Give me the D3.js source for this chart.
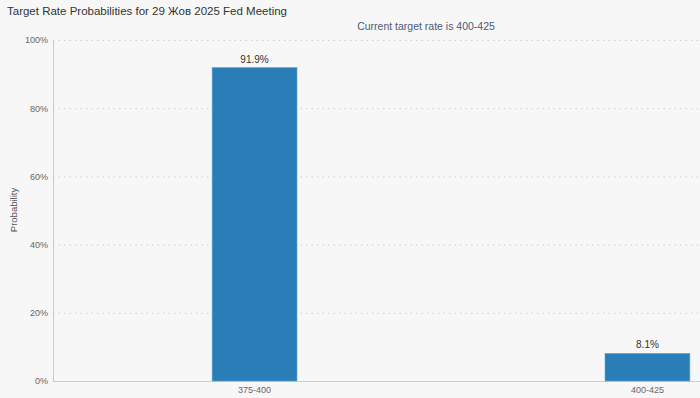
<!DOCTYPE html>
<html><head><meta charset="utf-8">
<script src="https://cdn.jsdelivr.net/npm/d3@7"></script>
<style>html,body{margin:0;padding:0;background:#f7f7f7;}svg{display:block;}</style>
</head><body>
<script>
const categories = ["375-400", "400-425"];
const probabilities = [91.9, 8.1];
const yTicks = [0, 20, 40, 60, 80, 100];
const titleText = "Target Rate Probabilities for 29 Жов 2025 Fed Meeting";
const subtitleText = "Current target rate is 400-425";

(function () {
const W = 700, H = 398;
const svg = d3.select("body").append("svg").attr("width", W).attr("height", H);
svg.append("rect").attr("width", W).attr("height", H).attr("fill", "#f7f7f7");

const mLeft = 53, mTop = 40, mBottom = 381;
const x = d3.scaleBand().domain(categories).range([mLeft, 849]).paddingInner(0.784).paddingOuter(0.405);
const y = d3.scaleLinear().domain([0, 100]).range([mBottom, mTop]);

// gridlines
svg.append("g").selectAll("line").data(yTicks.filter(d => d > 0)).join("line")
  .attr("x1", mLeft).attr("x2", W).attr("y1", d => y(d) + 0.5).attr("y2", d => y(d) + 0.5)
  .attr("stroke", "#cfcfcf").attr("stroke-width", 1).attr("stroke-dasharray", "1.5,4");

// y axis
const yAxis = d3.axisLeft(y).tickValues(yTicks).tickFormat(d => d + "%").tickSize(0).tickPadding(5);
const gy = svg.append("g").attr("transform", `translate(${mLeft},0)`).call(yAxis);
gy.select(".domain").attr("stroke", "#cccccc");
gy.selectAll("text").attr("font-family", "Arial, Liberation Sans, sans-serif").attr("font-size", 9).attr("fill", "#666");

// x axis
const xAxis = d3.axisBottom(x).tickSize(0).tickPadding(6);
const gx = svg.append("g").attr("transform", `translate(0,${mBottom})`).call(xAxis);
gx.select(".domain").attr("stroke", "#cccccc").attr("d", `M${mLeft},0.5H${W}`);
gx.selectAll("text").attr("font-family", "Arial, Liberation Sans, sans-serif").attr("font-size", 9).attr("fill", "#666");

// bars
svg.append("g").selectAll("rect").data(categories).join("rect")
  .attr("x", d => x(d)).attr("width", x.bandwidth())
  .attr("y", (d, i) => y(probabilities[i]))
  .attr("height", (d, i) => mBottom - y(probabilities[i]))
  .attr("fill", "#2b7db8").attr("stroke", "#5aa6d8").attr("stroke-width", 0.6);

// value labels
svg.append("g").selectAll("text").data(categories).join("text")
  .attr("x", d => x(d) + x.bandwidth() / 2)
  .attr("y", (d, i) => y(probabilities[i]) - 5)
  .attr("text-anchor", "middle")
  .attr("font-family", "Arial, Liberation Sans, sans-serif").attr("font-size", 10).attr("fill", "#333")
  .text((d, i) => probabilities[i].toFixed(1) + "%");

// titles
svg.append("text").attr("x", 7).attr("y", 15)
  .attr("font-family", "Arial, Liberation Sans, sans-serif").attr("font-size", 11.5).attr("fill", "#333")
  .text(titleText);
svg.append("text").attr("x", 426).attr("y", 30).attr("text-anchor", "middle")
  .attr("font-family", "Arial, Liberation Sans, sans-serif").attr("font-size", 10.5).attr("fill", "#4d5a78")
  .text(subtitleText);
svg.append("text").attr("transform", "translate(17,210) rotate(-90)").attr("text-anchor", "middle")
  .attr("font-family", "Arial, Liberation Sans, sans-serif").attr("font-size", 9.5).attr("fill", "#555")
  .text("Probability");
})();
</script>
</body></html>
